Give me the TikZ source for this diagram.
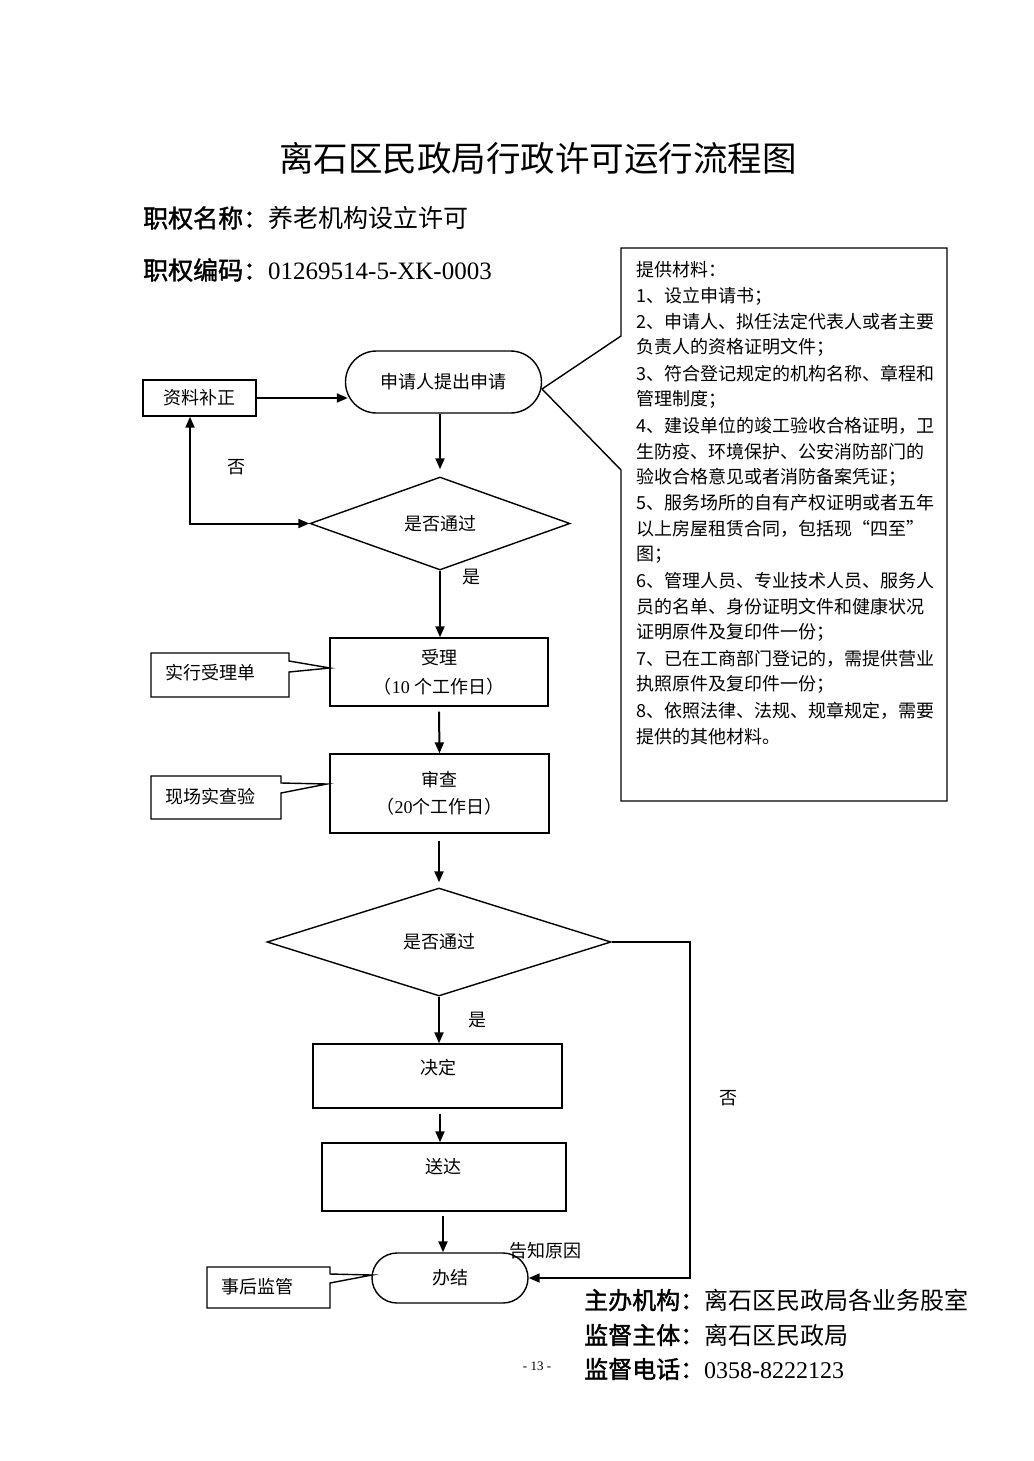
\documentclass[tikz,border=0pt]{standalone}
\usepackage{fontspec}
\setmainfont{Liberation Serif}
\newfontfamily\cjk{Noto Sans CJK SC}
\newfontfamily\cjkb[FakeBold=1.6]{Noto Sans CJK SC}
\usetikzlibrary{shapes.geometric,arrows.meta}
\begin{document}
\begin{tikzpicture}[x=1pt,y=-1pt,
  box/.style={draw,line width=1.4pt,inner sep=0pt},
  txt/.style={font=\cjk\fontsize{18}{21}\selectfont,inner sep=0pt},
  lst/.style={font=\cjk\fontsize{18}{20}\selectfont,inner sep=0pt,anchor=west},
  big/.style={font=\cjk\fontsize{25}{30}\selectfont,inner sep=0pt,anchor=west},
  bot/.style={font=\cjk\fontsize{24}{28}\selectfont,inner sep=0pt,anchor=west},
  arr/.style={line width=2pt,-{Triangle[length=11pt,width=9pt]}},
  ln/.style={line width=1.4pt,line join=miter}]
\useasboundingbox[fill=white] (0,0) rectangle (1033,1461);

% headings
\node[font=\cjk\fontsize{34.5}{40}\selectfont,inner sep=0pt] (title) at (538,158) {离石区民政局行政许可运行流程图};
\node[big] (pname) at (143,218) {{\cjkb 职权名称：}养老机构设立许可};
\node[big] (pcode) at (143,270) {{\cjkb 职权编码：}{\rmfamily 01269514-5-XK-0003}};

% material box
\draw[ln] (621,248) -- (947,248) -- (947,801) -- (621,801) -- (621,470) -- (542,389) -- (621,336) -- cycle;
\foreach \t [count=\i] in {提供材料：,
  1、设立申请书；,
  2、申请人、拟任法定代表人或者主要,
  负责人的资格证明文件；,
  3、符合登记规定的机构名称、章程和,
  管理制度；,
  4、建设单位的竣工验收合格证明，卫,
  生防疫、环境保护、公安消防部门的,
  验收合格意见或者消防备案凭证；,
  5、服务场所的自有产权证明或者五年,
  以上房屋租赁合同，包括现“四至”,
  图；,
  6、管理人员、专业技术人员、服务人,
  员的名单、身份证明文件和健康状况,
  证明原件及复印件一份；,
  7、已在工商部门登记的，需提供营业,
  执照原件及复印件一份；,
  8、依照法律、法规、规章规定，需要,
  提供的其他材料。}
  \node[lst] (m\i) at (636,{270+25.9*(\i-1)}) {\t};

% flow
\node[box,txt,rounded corners=31pt,minimum width=196pt,minimum height=62pt] (start) at (443.5,382) {申请人提出申请};
\node[box,txt,minimum width=113pt,minimum height=36pt] (fix) at (199.5,398) {资料补正};
\node[box,txt,diamond,minimum width=260pt,minimum height=93pt] (d1) at (440,523.5) {是否通过};
\node[box,minimum width=218pt,minimum height=68pt,align=center,font=\cjk\fontsize{18}{29}\selectfont] (acc) at (439,672) {受理\\（{\rmfamily 10} 个工作日）};
\node[box,minimum width=219pt,minimum height=79pt,align=center,font=\cjk\fontsize{18}{27}\selectfont] (rev) at (439.5,793.5) {审查\\（{\rmfamily 20}个工作日）};
\node[box,txt,diamond,minimum width=344pt,minimum height=108pt] (d2) at (439,942) {是否通过};
\node[box,minimum width=249pt,minimum height=64pt] (dec) at (437.5,1076) {};
\node[txt] (dect) at (438,1068) {决定};
\node[box,minimum width=244pt,minimum height=68pt] (del) at (444,1177) {};
\node[txt] (delt) at (443,1167) {送达};
\node[box,txt,rounded corners=25pt,minimum width=156pt,minimum height=50pt] (end) at (450,1278) {办结};

% labels
\node[txt] (no1) at (236,467) {否};
\node[txt] (yes1) at (471,577) {是};
\node[txt] (yes2) at (477,1020) {是};
\node[txt] (no2) at (728,1098) {否};
\node[txt] (why) at (545,1251) {告知原因};

% connectors
\draw[arr] (fix.east) -- ([xshift=3pt]fix.east -| start.west);
\draw[arr] (start.south -| d1.north) -- ([yshift=7pt]d1.north);
\coordinate (cl) at (190,523.5);
\draw[line width=2pt,{Triangle[length=11pt,width=9pt]}-{Triangle[length=11pt,width=9pt]}] (fix.south -| cl) -- (cl) -- (d1.west);
\draw[arr] (d1.south) -- (acc.north -| d1.south);
\draw[arr] ([yshift=-5pt]acc.south) -- (rev.north);
\draw[arr] ([yshift=-7pt]rev.south -| d2.north) -- ([yshift=5pt]d2.north);
\draw[arr] (d2.south) -- (dec.north -| d2.south);
\coordinate (ax1) at (440,0);
\draw[arr] ([yshift=-5pt]dec.south -| ax1) -- (del.north -| ax1);
\coordinate (ax2) at (443,0);
\draw[arr] ([yshift=-4pt]del.south -| ax2) -- (end.north -| ax2);
\coordinate (rc) at (690,1100);
\draw[line width=1.7pt,-{Triangle[length=11pt,width=9pt]}] (d2.east) -| (rc) |- (end.east);

% callouts
\draw[ln] (151,653) -- (289,653) -- (289,661) -- (330,668) -- (289,672) -- (289,697) -- (151,697) -- cycle;
\node[txt] (c1) at (210,673) {实行受理单};
\draw[ln] (151,776) -- (281,776) -- (281,783) -- (327,784) -- (281,793) -- (281,819) -- (151,819) -- cycle;
\node[txt] (c2) at (210,797) {现场实查验};
\draw[ln] (207,1267) -- (330,1267) -- (330,1274) -- (372,1275) -- (330,1283) -- (330,1308) -- (207,1308) -- cycle;
\node[txt] (c3) at (257,1287) {事后监管};

% footer
\node[bot] (f1) at (584,1300) {{\cjkb 主办机构：}离石区民政局各业务股室};
\node[bot] (f2) at (584,1335) {{\cjkb 监督主体：}离石区民政局};
\node[bot] (f3) at (584,1369) {{\cjkb 监督电话：}{\rmfamily 0358-8222123}};
\node[font=\rmfamily\fontsize{13}{15}\selectfont,inner sep=0pt] (pg) at (537,1366) {- 13 -};
\end{tikzpicture}
\end{document}
